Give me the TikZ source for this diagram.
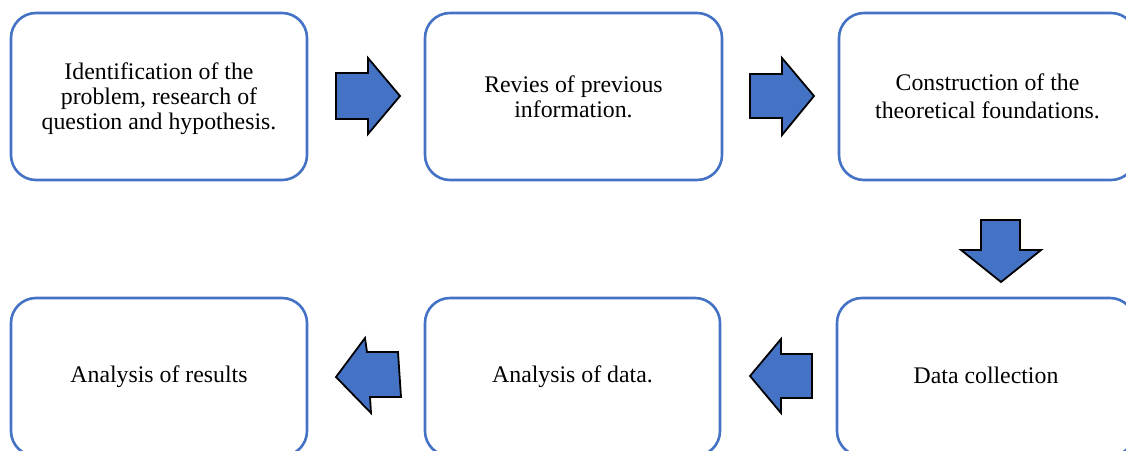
\documentclass[tikz,border=0pt]{standalone}
\usepackage{fontspec}
\setmainfont{Liberation Serif}
\definecolor{officeblue}{HTML}{4472C4}
\tikzset{
  stepbox/.style={draw=officeblue, line width=2.6pt, rounded corners=25pt, fill=white,
    align=center, inner sep=0pt, font=\fontsize{23.8}{25}\selectfont},
  blockarrow/.style={draw=black, fill=officeblue, line width=1.8pt, line join=miter}
}
\begin{document}
\begin{tikzpicture}[x=1pt,y=-1pt]
\useasboundingbox (0,0) rectangle (1126,450);
\begin{scope}
\clip (0,0) rectangle (1126,450);
\node[stepbox, minimum width=296pt, minimum height=167pt] (b1) at (159,96.5) {};
\node[align=center, inner sep=0pt, font=\fontsize{23.8}{25}\selectfont] (t1) at (159,98.5)
  {Identification of the\\problem, research of\\question and hypothesis.};
\node[stepbox, minimum width=297pt, minimum height=167pt] (b2) at (573.5,96.5)
  {Revies of previous\\information.};
\node[stepbox, minimum width=297pt, minimum height=167pt, font=\fontsize{23.8}{28.5}\selectfont] (b3) at (987.5,96.5)
  {Construction of the\\theoretical foundations.};
\node[stepbox, minimum width=296pt, minimum height=158pt] (b4) at (159,377)
  {Analysis of results};
\node[stepbox, minimum width=295pt, minimum height=158pt] (b5) at (572.5,377)
  {Analysis of data.};
\node[stepbox, minimum width=298pt, minimum height=158pt] (b6) at (986,377) {};
\node[inner sep=0pt, font=\fontsize{23.8}{25}\selectfont] (t6) at (986,375.5) {Data collection};
\end{scope}
% block arrows
\draw[blockarrow] (336,73) -- (368,73) -- (368,58) -- (400,96) -- (368,134) -- (368,119) -- (336,119) -- cycle;
\draw[blockarrow] (750,74) -- (782,74) -- (782,58) -- (814,96) -- (782,135) -- (782,118) -- (750,118) -- cycle;
\draw[blockarrow] (981,220) -- (1020,220) -- (1020,250) -- (1041,250) -- (1001,282) -- (961,250) -- (981,250) -- cycle;
\draw[blockarrow] (750,376) -- (781,339) -- (781,354) -- (812,354) -- (812,398) -- (781,398) -- (781,413) -- cycle;
\draw[blockarrow] (336,377) -- (365,338) -- (367,352) -- (398,352) -- (401,397) -- (370,397) -- (371,413) -- cycle;
\end{tikzpicture}
\end{document}
